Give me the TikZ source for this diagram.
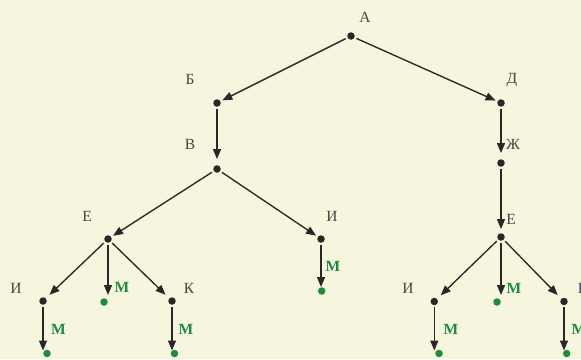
\documentclass[tikz,border=0pt]{standalone}
\usepackage{fontspec}
\setmainfont{Liberation Serif}
\usetikzlibrary{arrows.meta}
\definecolor{bg}{RGB}{245,246,221}
\definecolor{ink}{RGB}{40,40,40}
\definecolor{lab}{RGB}{70,70,70}
\definecolor{grn}{RGB}{30,140,60}
\tikzset{
  dot/.style={circle,fill=ink,inner sep=0pt,minimum size=7.5pt},
  gdot/.style={circle,fill=grn,inner sep=0pt,minimum size=7.5pt},
  lbl/.style={text=lab,font=\fontsize{15.5}{17}\selectfont,inner sep=0pt},
  glbl/.style={text=grn,font=\fontsize{15.5}{17}\selectfont\bfseries,inner sep=0pt},
  edge/.style={draw=ink,line width=1.35pt,-{Triangle[length=10pt,width=8pt]},shorten <=2pt,shorten >=2pt},
}
\begin{document}
\begin{tikzpicture}[x=1pt,y=-1pt]
\fill[bg] (0,0) rectangle (581,359);
\useasboundingbox (0,0) rectangle (581,359);
% nodes
\node[dot] (A) at (351,36) {};
\node[dot] (B) at (217,103) {};
\node[dot] (D) at (501,103) {};
\node[dot] (V) at (217,169) {};
\node[dot] (Zh) at (501,163) {};
\node[dot] (E1) at (108,239) {};
\node[dot] (I1) at (321,239) {};
\node[dot] (E2) at (501,237) {};
\node[dot] (I2) at (43,301) {};
\node[gdot] (M1) at (104,302) {};
\node[dot] (K1) at (172,301) {};
\node[gdot] (M2) at (47,353.5) {};
\node[gdot] (M3) at (174.5,353.5) {};
\node[gdot] (M4) at (321.7,291) {};
\node[dot] (I3) at (434.3,301.5) {};
\node[gdot] (M5) at (497,302) {};
\node[dot] (K2) at (564,301.5) {};
\node[gdot] (M6) at (439,353.5) {};
\node[gdot] (M7) at (566.7,353.5) {};
% labels
\node[lbl] (lA) at (365,17) {А};
\node[lbl] (lB) at (190,79) {Б};
\node[lbl] (lD) at (512,80) {Д};
\node[lbl] (lV) at (190,144) {В};
\node[lbl] (lZh) at (513,144) {Ж};
\node[lbl] (lE1) at (87,216) {Е};
\node[lbl] (lI1) at (332,216) {И};
\node[lbl] (lE2) at (511,219) {Е};
\node[lbl] (lI2) at (16,288) {И};
\node[glbl] (lM1) at (122,287) {М};
\node[lbl] (lK1) at (189,288) {К};
\node[glbl] (lM2) at (58.5,329) {М};
\node[glbl] (lM3) at (186,329) {М};
\node[glbl] (lM4) at (333,266) {М};
\node[lbl] (lI3) at (408,288) {И};
\node[glbl] (lM5) at (514,288) {М};
\node[lbl] (lK2) at (583,288) {К};
\node[glbl] (lM6) at (451,329) {М};
\node[glbl] (lM7) at (579,329) {М};
% edges
\draw[edge] (A) -- (B);
\draw[edge] (A) -- (D);
\draw[edge,shorten >=6pt] (B) -- (V);
\draw[edge,shorten >=6pt] (D) -- (Zh);
\draw[edge] (V) -- (E1);
\draw[edge] (V) -- (I1);
\draw[edge,shorten >=4pt] (Zh) -- (E2);
\draw[edge,shorten >=5pt] (E1) -- (I2);
\draw[edge,shorten >=7pt] (E1) -- (E1 |- M1);
\draw[edge,shorten >=5pt] (E1) -- (K1);
\draw[edge,shorten >=3pt] (I2) -- (I2 |- M2);
\draw[edge,shorten >=3pt] (K1) -- (K1 |- M3);
\draw[edge,shorten >=4pt] (I1) -- (I1 |- M4);
\draw[edge,shorten >=5pt] (E2) -- (I3);
\draw[edge,shorten >=7pt] (E2) -- (E2 |- M5);
\draw[edge,shorten >=5pt] (E2) -- (K2);
\draw[edge,shorten >=3pt] (I3) -- (I3 |- M6);
\draw[edge,shorten >=3pt] (K2) -- (K2 |- M7);
\end{tikzpicture}
\end{document}
